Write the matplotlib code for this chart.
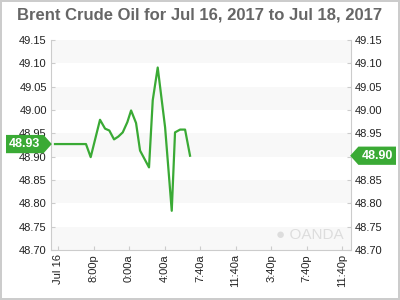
import matplotlib
matplotlib.use("Agg")
import matplotlib.pyplot as plt
from matplotlib.path import Path
from matplotlib.transforms import blended_transform_factory

# hours since the "Jul 16" tick
hours = [-0.34, 3.15, 3.68, 4.73, 5.30, 5.78, 6.31, 6.79, 7.29, 7.81, 8.23,
         8.79, 9.24, 10.25, 10.67, 11.23, 12.06, 12.81, 13.18, 13.75, 14.31, 14.87]
prices = [48.927, 48.927, 48.899, 48.979, 48.960, 48.956, 48.937, 48.943, 48.952,
          48.974, 48.999, 48.972, 48.913, 48.877, 49.021, 49.091, 48.963, 48.784,
          48.952, 48.958, 48.958, 48.902]

tick_hours = [0, 4, 8, 12, 16, 20, 24, 28, 32]
tick_labels = ["Jul 16", "8:00p", "0:00a", "4:00a", "7:40a", "11:40a", "3:40p", "7:40p", "11:40p"]
y_ticks = [48.70, 48.75, 48.80, 48.85, 48.90, 48.95, 49.00, 49.05, 49.10, 49.15]
open_label = "48.93"
close_label = "48.90"

GREEN = "#3aaa35"
GRID = "#cccccc"
plt.rcParams["font.family"] = ["Liberation Sans", "DejaVu Sans"]


def tag(direction):
    # price tag box: a rectangle with a pointed end
    def style(x0, y0, width, height, mutation_size):
        pad = 0.25 * mutation_size
        x0, y0 = x0 - pad, y0 - pad
        width, height = width + 2 * pad, height + 2 * pad
        tip = height * 0.45
        if direction == "right":
            verts = [(x0, y0), (x0 + width, y0), (x0 + width + tip, y0 + height / 2),
                     (x0 + width, y0 + height), (x0, y0 + height), (x0, y0)]
        else:
            verts = [(x0, y0), (x0 + width, y0), (x0 + width, y0 + height),
                     (x0, y0 + height), (x0 - tip, y0 + height / 2), (x0, y0)]
        codes = [Path.MOVETO] + [Path.LINETO] * 4 + [Path.CLOSEPOLY]
        return Path(verts, codes)
    return style


fig = plt.figure(figsize=(4, 3), dpi=100)
fig.patch.set_edgecolor(GRID)
fig.patch.set_linewidth(1.5)
ax = fig.add_axes([0.1275, 0.1667, 0.75, 0.70])

for i in range(0, len(y_ticks) - 1, 2):
    ax.axhspan(y_ticks[i], y_ticks[i + 1], color="#f8f8f8", lw=0, zorder=0)

ax.plot(hours, prices, color=GREEN, lw=1.6, zorder=3)

ax.set_xlim(-0.79, 33.0)
ax.set_ylim(48.70, 49.15)
ax.set_yticks(y_ticks)
ax.set_yticklabels([f"{v:.2f}" for v in y_ticks])
ax.set_xticks(tick_hours)
ax.set_xticklabels(tick_labels, rotation=90)
ax.tick_params(axis="both", direction="in", length=3, color=GRID, labelsize=8,
               labelcolor="#222222", pad=3)
ax.tick_params(axis="y", right=True, labelright=True)
# the closing tag sits on top of the right-hand 48.90 label
ax.yaxis.get_major_ticks()[y_ticks.index(48.90)].label2.set_visible(False)
for side in ["left", "right", "bottom"]:
    ax.spines[side].set_color(GRID)
ax.spines["top"].set_visible(False)

trans = blended_transform_factory(ax.transAxes, ax.transData)
ax.text(-0.035, prices[0], open_label, transform=trans, ha="right", va="center",
        color="white", fontsize=9, fontweight="bold", zorder=5,
        bbox=dict(boxstyle=tag("right"), fc=GREEN, ec="none"))
ax.text(1.035, prices[-1], close_label, transform=trans, ha="left", va="center",
        color="white", fontsize=9, fontweight="bold", zorder=5,
        bbox=dict(boxstyle=tag("left"), fc=GREEN, ec="none"))

ax.text(0.975, 0.04, "\u25cf OANDA", transform=ax.transAxes, ha="right", va="bottom",
        color="#dddddd", fontsize=11)

fig.suptitle("Brent Crude Oil for Jul 16, 2017 to Jul 18, 2017", x=0.5, y=0.975,
             va="top", fontsize=12, fontweight="bold", color="#666666")

fig.savefig("out.png", dpi=100)
